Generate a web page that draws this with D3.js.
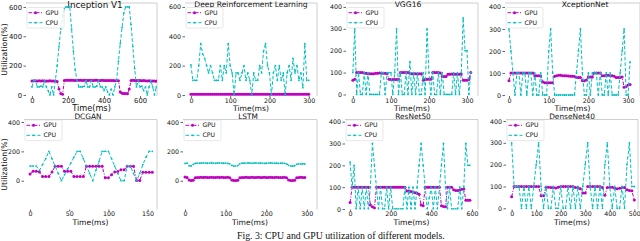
<!DOCTYPE html>
<html>
<head>
<meta charset="utf-8">
<script src="https://cdn.jsdelivr.net/npm/d3@7"></script>
<style>
  body { margin: 0; background: #fff; }
  svg { display: block; }
  text { font-family: "DejaVu Sans", sans-serif; fill: #111; }
</style>
</head>
<body>
<svg id="chart" width="640" height="241"></svg>
<script>
//========================= data (utilization %, one sample every *Step ms) =========================//
const inceptionStep = 10;
const inceptionGpu = [95,97,97,96,97,96,97,96,95,96,97,96,95,96,92, 40,10,5,98,
  100,100,101,100,100,99,100,100,100,99, 100,100,99,100,100,99,100,100,99,99,
  100,99,98,99,98,99,98,97,98,97, 20,12,10,10,8,40,98,
  100,99,99,98,98,97,98,97,96,97,96,95,95,94];
const inceptionCpu = [55,100,100,55,55,60,55,100,55,30,0,55,0,
  100,200,330,450,540,590,600,600,600,450,300,170,100,
  55,55,55,60,100,55,55,100,55,55,60,100,55,55,30,55,20,0,40,0,55,
  100,230,350,460,560,600,600,600,480,330,180,55,
  100,55,60,30,55,0,55,100,55,0,55];

const drlStep = 5;
const drlGpu = [5,5,5,5,5,5,5,5,5,5, 5,5,5,5,5,5,5,5,5,5, 5,5,5,5,5,5,5,5,5,5,
  5,5,5,5,5,5,5,5,5,5, 5,5,5,5,5,5,5,5,5,5, 5,5,5,5,5,5,5,5,5,5, 5];
const drlCpu = [205,100,100,100,200,350,280,250,200,150, 200,150,100,100,100,200,100,200,150,350,
  200,150,0,150,150,100,150,200,100,150, 100,0,150,100,100,200,150,300,350,200,
  150,0,150,200,100,200,100,150,0,150, 200,100,250,150,200,100,150,50,350,100, 100];

const vggStep = 5;
const vggGpu = [65,70,100,100,100,100,98,97,95,95, 95,95,97,97,98,98,97,97,95,70,
  68,68,68,68,70,100,100,100,100,100, 97,95,95,95,94,95,95,65,68,70,
  70,70,100,100,100,100,98,82,82,82, 92,92,93,92,92,92,92,93,65,65, 65,68,100];
const vggCpu = [100,300,0,100,0,0,100,0,100,0, 0,0,0,0,0,100,100,0,100,100,
  100,0,100,300,0,100,0,0,100,0, 150,0,100,0,100,0,0,100,0,300,
  100,0,100,0,0,100,0,100,0,0, 0,0,0,100,0,100,0,100,350,200, 200,0,100];

const xceptionStep = 5;
const xceptionGpu = [65,100,100,100,100,100,100,100,100,100, 100,100,100,88,87,87,86,60,56,56,
  56,56,56,85,88,90,90,88,88,87, 86,85,85,84,80,80,80,65,65,68,
  82,82,82,100,100,100,100,88,88,90, 90,88,87,85,80,80,80,82,35,38, 45,48];
const xceptionCpu = [300,200,100,0,100,100,0,100,100,0, 100,100,0,100,0,0,100,0,0,0,
  200,300,100,0,0,0,0,0,0,0, 0,0,0,0,100,200,300,100,0,0,
  100,0,100,100,100,0,100,0,0,100, 0,100,0,0,0,0,100,200,300,0, 0,150];

const dcganStep = 4;
const dcganGpu = [45,65,65,60,28,28,28,60,98,98, 98,65,65,65,28,28,28,28,98,98,
  98,98,98,98,21,21,40,60,62,75, 75,98,98,98,2,2,57,57,57,57];
const dcganCpu = [100,100,100,70,110,150,200,150,100,50, 0,40,80,120,160,200,200,150,100,50,
  0,70,130,200,200,200,150,100,50,0, 0,100,100,50,0,50,110,160,200,200];

const lstmStep = 5;
const lstmGpu = [25,22,5,2,3,20,22,22,23,22, 23,22,22,23,22,22,23,22,23,22,
  22,23,20,5,2,2,3,20,22,22, 23,22,22,23,22,22,23,22,22,23,
  22,22,23,22,22,23,22,22,22,23, 20,5,2,2,3,20,22,23,22,22];
const lstmCpu = [118,120,102,100,112,118,120,119,120,121, 120,119,120,121,120,119,120,121,120,119,
  120,118,115,105,100,100,103,115,120,119, 120,121,120,119,120,121,120,119,120,118,
  119,120,121,120,119,120,118,119,120,118, 115,105,100,100,102,112,115,114,115,114];

const resnetStep = 10;
const resnetGpu = [30,100,100,100,100,100,100,100,100,100, 18,10,5,100,100,100,100,100,100,100,
  100,100,100,100,100,100,100,100,82,83, 80,78,75,72,68,18,15,100,100,100,
  100,100,100,100,100,15,12,10,100,100, 100,88,85,85,87,90,92,40,40,40];
const resnetCpu = [215,100,200,0,100,0,100,0,100,0, 100,300,200,100,0,100,0,0,100,0,
  100,0,0,0,0,0,0,100,0,100, 0,100,0,100,200,300,200,100,0,50,
  100,0,100,0,100,200,300,100,0,100, 0,0,0,0,100,0,100,300,200,200];

const densenetStep = 10;
const densenetGpu = [53,100,100,100,100,100,100,100,100,100, 100,100,57,57,97,97,95,95,93,97,
  100,100,100,100,100,100,95,95,90,70, 70,100,100,100,100,100,100,95,60,95,
  97,97,92,90,92,95,95,85,82,80, 38];
const densenetCpu = [300,100,100,100,0,100,0,100,0,100, 200,300,100,0,100,0,0,100,0,0,
  100,0,0,100,0,100,0,100,0,100, 200,300,100,0,100,0,100,0,200,300,
  100,0,100,0,0,100,0,200,300,100, 100];

// tick labels
const ticks600 = [0, 200, 400, 600];
const ticks400 = [0, 100, 200, 300, 400];
const ticks400Coarse = [0, 200, 400];
const ticksTime300 = [0, 100, 200, 300];
const ticksTime600 = [0, 200, 400, 600];
const ticksTime150 = [0, 50, 100, 150];
const ticksTime500 = [0, 100, 200, 300, 400, 500];

const seriesNames = ["GPU", "CPU"];
const caption = "Fig. 3: CPU and GPU utilization of different models.";

//========================= panel layout =========================//
const panels = [
  {title: "Inception V1", titleX: 95, gpu: inceptionGpu, cpu: inceptionCpu, step: inceptionStep,
   box: [26, 3, 157, 96], xDomain: [-33, 694], yDomain: [-7, 627], xTicks: ticksTime600, yTicks: ticks600, big: true, ylabel: true},
  {title: "Deep Reinforcement Learning", titleX: 251, gpu: drlGpu, cpu: drlCpu, step: drlStep,
   box: [185, 3, 317, 96], xDomain: [-15, 321], yDomain: [-7, 627], xTicks: ticksTime300, yTicks: ticks600},
  {title: "VGG16", titleX: 408, gpu: vggGpu, cpu: vggCpu, step: vggStep,
   box: [346, 3, 478, 96], xDomain: [-18, 329], yDomain: [-7, 418], xTicks: ticksTime300, yTicks: ticks400},
  {title: "XceptionNet", titleX: 585, gpu: xceptionGpu, cpu: xceptionCpu, step: xceptionStep,
   box: [505, 3, 640, 96], xDomain: [-10, 330], yDomain: [-4.5, 418], xTicks: ticksTime300, yTicks: ticks400},
  {title: "DCGAN", titleX: 88, gpu: dcganGpu, cpu: dcganCpu, step: dcganStep,
   box: [24, 119.5, 157, 209.5], xDomain: [-7.7, 162], yDomain: [-196, 417], xTicks: ticksTime150, yTicks: ticks400Coarse, ylabel: true},
  {title: "LSTM", titleX: 248, gpu: lstmGpu, cpu: lstmCpu, step: lstmStep,
   box: [183, 119.5, 317, 209.5], xDomain: [-5, 325], yDomain: [-196, 417], xTicks: ticksTime300, yTicks: ticks400Coarse},
  {title: "ResNet50", titleX: 413, gpu: resnetGpu, cpu: resnetCpu, step: resnetStep,
   box: [345, 119.5, 478, 209.5], xDomain: [-25, 630], yDomain: [-2.3, 410], xTicks: ticksTime600, yTicks: ticks400},
  {title: "DenseNet40", titleX: 572, gpu: densenetGpu, cpu: densenetCpu, step: densenetStep,
   box: [506, 119.5, 638, 209.5], xDomain: [-23, 515], yDomain: [-5.5, 407], xTicks: ticksTime500, yTicks: ticks400}
];

const gpuColor = "#bf00bf";
const cpuColor = "#00bfbf";

const svg = d3.select("#chart");

//========================= one subplot =========================//
function drawPanel(p, idx) {
  const [bx0, by0, bx1, by1] = p.box;
  const top = by0 < 60;
  const g = svg.append("g");

  const x = d3.scaleLinear().domain(p.xDomain).range([bx0, bx1]);
  const y = d3.scaleLinear().domain(p.yDomain).range([by1, by0]);

  const tickFs = p.big ? 6.8 : 6.3;
  const labelFs = p.big ? 8.2 : 7.6;

  g.append("clipPath").attr("id", "clip" + idx)
    .append("rect")
    .attr("x", bx0).attr("y", by0)
    .attr("width", bx1 - bx0).attr("height", by1 - by0);

  // only top and right spines are drawn
  g.append("path")
    .attr("d", `M${bx0},${by0}H${bx1}V${by1}`)
    .attr("fill", "none")
    .attr("stroke", "#c2c2c2")
    .attr("stroke-width", 0.8);

  // y axis
  const ya = g.append("g")
    .attr("transform", `translate(${bx0},0)`)
    .call(d3.axisLeft(y).tickValues(p.yTicks).tickSize(2.5).tickPadding(1.5));
  ya.select(".domain").remove();
  ya.attr("font-size", tickFs).attr("font-family", "DejaVu Sans").attr("color", "#222");
  ya.selectAll("line").attr("stroke-width", 0.7);

  // x axis
  const xa = g.append("g")
    .attr("transform", `translate(0,${by1})`)
    .call(d3.axisBottom(x).tickValues(p.xTicks).tickSize(2).tickPadding(p.big ? 0 : 0.5));
  xa.select(".domain").remove();
  xa.attr("font-size", tickFs).attr("font-family", "DejaVu Sans").attr("color", "#222");
  xa.selectAll("line").attr("stroke-width", 0.7);

  // title and axis labels
  g.append("text")
    .attr("x", p.titleX)
    .attr("y", top ? (p.big ? 7.6 : 7) : 119.2)
    .attr("text-anchor", "middle")
    .attr("font-size", top ? (p.big ? 8.8 : labelFs) : 7.4)
    .text(p.title);

  g.append("text")
    .attr("x", (bx0 + bx1) / 2)
    .attr("y", top ? (p.big ? 111.4 : 110.8) : 225)
    .attr("text-anchor", "middle")
    .attr("font-size", labelFs)
    .text("Time(ms)");

  if (p.ylabel) {
    g.append("text")
      .attr("transform", `translate(7.3,${(by0 + by1) / 2}) rotate(-90)`)
      .attr("text-anchor", "middle")
      .attr("font-size", 7.8)
      .text("Utilization(%)");
  }

  // series
  const plot = g.append("g").attr("clip-path", `url(#clip${idx})`);
  const line = d3.line()
    .x(function(d, i) { return x(i * p.step); })
    .y(function(d) { return y(d); });

  plot.append("path")
    .datum(p.gpu)
    .attr("d", line)
    .attr("fill", "none")
    .attr("stroke", gpuColor)
    .attr("stroke-width", 1)
    .attr("stroke-dasharray", "3.5,1.5,1,1.5");
  plot.selectAll(".gpu-dot")
    .data(p.gpu)
    .enter()
    .append("circle")
    .attr("class", "gpu-dot")
    .attr("cx", function(d, i) { return x(i * p.step); })
    .attr("cy", function(d) { return y(d); })
    .attr("r", 1.5)
    .attr("fill", gpuColor);

  plot.append("path")
    .datum(p.cpu)
    .attr("d", line)
    .attr("fill", "none")
    .attr("stroke", cpuColor)
    .attr("stroke-width", 1)
    .attr("stroke-dasharray", "3.5,2");
  plot.selectAll(".cpu-dot")
    .data(p.cpu)
    .enter()
    .append("circle")
    .attr("class", "cpu-dot")
    .attr("cx", function(d, i) { return x(i * p.step); })
    .attr("cy", function(d) { return y(d); })
    .attr("r", 0.9)
    .attr("fill", cpuColor);

  // legend (upper left)
  const ly = top ? by0 + 9.7 : by0 + 5.8;
  const lg = g.append("g").attr("transform", `translate(${bx0},${ly})`);
  lg.append("rect")
    .attr("x", 1).attr("y", -5.2)
    .attr("width", 37).attr("height", 20.5)
    .attr("rx", 1.5)
    .attr("fill", "#fff").attr("fill-opacity", 0.85)
    .attr("stroke", "#d6d6d6").attr("stroke-width", 0.6);

  const colors = [gpuColor, cpuColor];
  const dashes = ["3.5,1.5,1,1.5", "3.5,2"];
  seriesNames.forEach(function(name, i) {
    const row = lg.append("g").attr("transform", `translate(0,${i * 10})`);
    row.append("line")
      .attr("x1", 2.5).attr("x2", 16.5)
      .attr("stroke", colors[i]).attr("stroke-width", 1)
      .attr("stroke-dasharray", dashes[i]);
    row.append("circle")
      .attr("cx", 9.5).attr("r", i === 0 ? 1.5 : 0.9)
      .attr("fill", colors[i]);
    row.append("text")
      .attr("x", 19.5).attr("dy", "0.35em")
      .attr("font-size", 6.2)
      .text(name);
  });
}

panels.forEach(drawPanel);

//========================= caption =========================//
svg.append("text")
  .attr("x", 237)
  .attr("y", 238.5)
  .style("font-family", '"Liberation Serif", "Times New Roman", serif')
  .attr("font-size", 9.8)
  .attr("fill", "#222")
  .text(caption);
</script>
</body>
</html>
